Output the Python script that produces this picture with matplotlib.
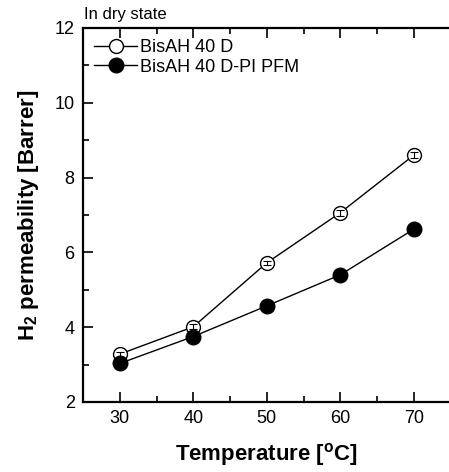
import matplotlib
matplotlib.use("Agg")
import matplotlib.pyplot as plt
from matplotlib.ticker import MultipleLocator

plt.rcParams['font.family'] = ['Liberation Sans', 'DejaVu Sans']
plt.rcParams['mathtext.fontset'] = 'custom'
plt.rcParams['mathtext.rm'] = 'Liberation Sans'
plt.rcParams['mathtext.bf'] = 'Liberation Sans:bold'

temperature = [30, 40, 50, 60, 70]
bisah_40d = [3.28, 4.01, 5.72, 7.06, 8.60]
bisah_40d_err = [0.07, 0.07, 0.05, 0.08, 0.08]
bisah_40d_pi = [3.03, 3.75, 4.57, 5.40, 6.62]
labels = ["BisAH 40 D", "BisAH 40 D-PI PFM"]

fig = plt.figure(figsize=(4.49, 4.72), dpi=100)
x0 = 83/449
x1 = 83/449 + (414 - 120) / 40 * 50 / 449  # xlim 25..75 spans to the image edge
ax = fig.add_axes([x0, 1 - 402/472, x1 - x0, (402 - 28)/472])

ax.plot(temperature, bisah_40d, 'o-', color='black', mfc='white', mec='black',
        ms=10, lw=1.0, label=labels[0], zorder=3)
ax.errorbar(temperature, bisah_40d, yerr=bisah_40d_err, fmt='none', ecolor='black',
            capsize=3, elinewidth=0.8, capthick=0.8, zorder=4)
ax.plot(temperature, bisah_40d_pi, 'o-', color='black', mfc='black', ms=10.5,
        lw=1.0, label=labels[1], zorder=3)

ax.set_xlim(25, 75)
ax.set_ylim(2, 12)
ax.xaxis.set_major_locator(MultipleLocator(10))
ax.xaxis.set_minor_locator(MultipleLocator(5))
ax.yaxis.set_major_locator(MultipleLocator(2))
ax.yaxis.set_minor_locator(MultipleLocator(1))
ax.tick_params(which='both', direction='in', top=True, right=False, labelsize=13, width=1.2)
ax.tick_params(which='major', length=7, pad=6)
ax.tick_params(which='minor', length=4)
for s in ax.spines.values():
    s.set_linewidth(1.6)
ax.spines['right'].set_visible(False)

ax.set_xlabel(r"Temperature [$\mathbf{^{o}}$C]", fontsize=16, fontweight='bold', labelpad=10)
ax.set_ylabel(r"H$\mathbf{_2}$ permeability [Barrer]", fontsize=16, fontweight='bold', labelpad=10)

ax.legend(loc='upper left', frameon=False, fontsize=13,
          handlelength=2.4, handletextpad=0.15, borderaxespad=0.3, labelspacing=0.15,
          borderpad=0.3)

fig.text(84/449, 1 - 14/472, "In dry state", fontsize=12, va='center', ha='left')

fig.savefig("out.png", dpi=100)
